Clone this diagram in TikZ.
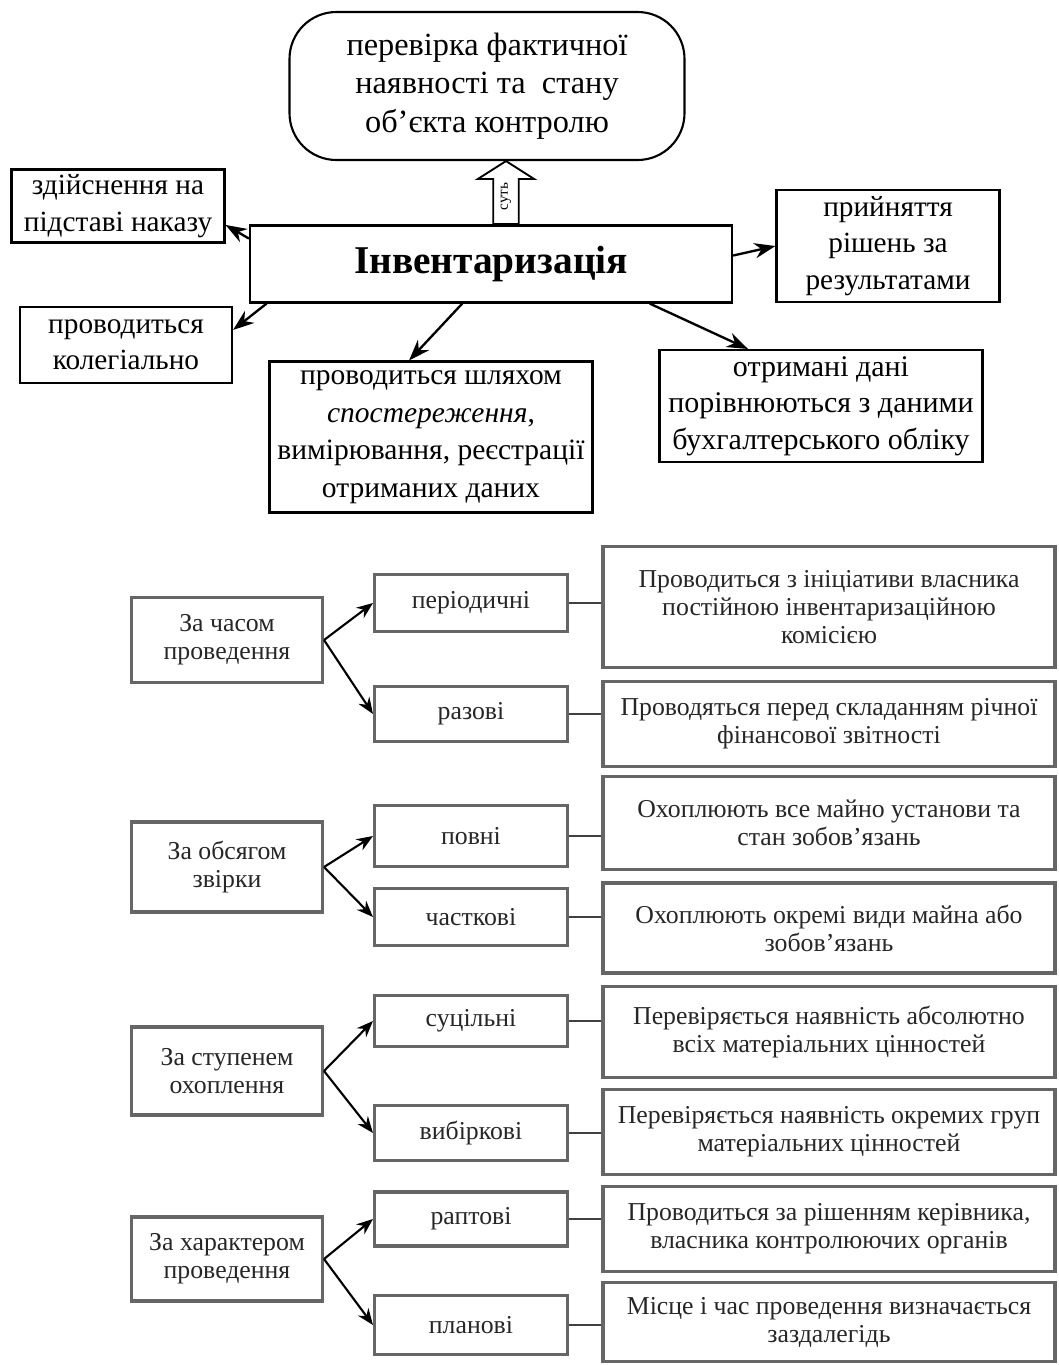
\documentclass[tikz,border=0pt]{standalone}
\usepackage{fontspec}
\setmainfont{Liberation Serif}
\usetikzlibrary{arrows.meta,shapes.arrows}

\begin{document}
\begin{tikzpicture}[x=0.015cm, y=-0.015cm,
    every node/.style={draw, inner sep=2pt, align=center},
    sz/.style 2 args={minimum width=#1*0.015cm, minimum height=#2*0.015cm},
    topbox/.style={line width=0.9pt, font=\fontsize{12.5}{15.5}\selectfont},
    lowbox/.style={line width=1.3pt, draw=black!60, text=black!85, font=\fontsize{11}{12}\selectfont},
    sutarrow/.style={single arrow, line width=0.8pt, rotate=90, inner sep=2.8pt,
        minimum height=63*0.015cm, single arrow head extend=6.6pt,
        single arrow tip angle=115, font=\fontsize{6.5}{7}\selectfont},
    arr/.style={line width=1pt, -{Stealth[length=9pt,width=6.5pt]}},
    lowarr/.style={line width=0.9pt, -{Stealth[length=7pt,width=5.5pt]}},
    link/.style={line width=1.1pt, black!75}
]
\useasboundingbox (0,0) rectangle (1058,1365);

% top
\node[topbox, sz={395}{148}, rounded corners=20pt, font=\fontsize{13.8}{16.5}\selectfont] (sut) at (487,86)
    {перевірка фактичної\\ наявності та~ стану\\ об’єкта контролю};
\node[topbox, sz={482}{77}, font=\bfseries\fontsize{16.8}{19}\selectfont] (inv) at (491,264) {Інвентаризація};
\node[sutarrow, anchor=tail] (sa) at (506,225) {суть};

\node[topbox, sz={213}{73}] (naz) at (118,206) {здійснення на\\ підставі наказу};
\node[topbox, sz={212}{76}] (kol) at (126,345) {проводиться\\ колегіально};
\node[topbox, sz={323}{151}, inner sep=1pt, font=\fontsize{12.6}{16}\selectfont] (shl) at (431,437)
    {проводиться шляхом\\ \textit{спостереження},\\ вимірювання, реєстрації\\ отриманих даних};
\node[topbox, sz={223}{112}] (prn) at (888,246) {прийняття\\ рішень за\\ результатами};
\node[topbox, sz={323}{112}, font=\fontsize{12.8}{15.5}\selectfont] (otr) at (821,406)
    {отримані дані\\ порівнюються з даними\\ бухгалтерського обліку};

\draw[arr] (inv.174) -- (naz.-10);
\draw[arr] (inv.190) -- (kol.8);
\draw[arr] (inv.234) -- (shl.106);
\draw[arr] (inv.2) -- (prn.180);
\draw[arr] (inv.-14) -- (otr.142);

% (1)
\node[lowbox, sz={191}{85}] (k1) at (227,640) {За часом\\ проведення};
\node[lowbox, sz={193}{57}] (v1) at (471,603) {періодичні};
\node[lowbox, sz={193}{55}] (v2) at (471,714) {разові};
\node[lowbox, sz={452}{121}] (o1) at (829,607)
    {Проводиться з ініціативи власника\\ постійною інвентаризаційною\\ комісією};
\node[lowbox, sz={452}{85}] (o2) at (829,724)
    {Проводяться перед складанням річної\\ фінансової звітності};
\draw[lowarr] (k1.east) -- (v1.west);
\draw[lowarr] (k1.east) -- (v2.west);
\draw[link] (v1.east) -- (v1.east -| o1.west);
\draw[link] (v2.east) -- (v2.east -| o2.west);

% (2)
\node[lowbox, sz={191}{90}] (k2) at (227,867) {За обсягом\\ звірки};
\node[lowbox, sz={193}{61}] (v3) at (471,836) {повні};
\node[lowbox, sz={193}{57}] (v4) at (471,917) {часткові};
\node[lowbox, sz={452}{93}] (o3) at (829,823)
    {Охоплюють все майно установи та\\ стан зобов’язань};
\node[lowbox, sz={452}{90}] (o4) at (829,928)
    {Охоплюють окремі види майна або\\ зобов’язань};
\draw[lowarr] (k2.east) -- (v3.west);
\draw[lowarr] (k2.east) -- (v4.west);
\draw[link] (v3.east) -- (v3.east -| o3.west);
\draw[link] (v4.east) -- (v4.east -| o4.west);

% (3)
\node[lowbox, sz={191}{88}] (k3) at (227,1071) {За ступенем\\ охоплення};
\node[lowbox, sz={193}{51}] (v5) at (471,1021) {суцільні};
\node[lowbox, sz={193}{55}] (v6) at (471,1133) {вибіркові};
\node[lowbox, sz={452}{91}] (o5) at (829,1032)
    {Перевіряється наявність абсолютно\\ всіх матеріальних цінностей};
\node[lowbox, sz={452}{85}] (o6) at (829,1132)
    {Перевіряється наявність окремих груп\\ матеріальних цінностей};
\draw[lowarr] (k3.east) -- (v5.west);
\draw[lowarr] (k3.east) -- (v6.west);
\draw[link] (v5.east) -- (v5.east -| o5.west);
\draw[link] (v6.east) -- (v6.east -| o6.west);

% (4)
\node[lowbox, sz={191}{84}] (k4) at (227,1259) {За характером\\ проведення};
\node[lowbox, sz={193}{54}] (v7) at (471,1219) {раптові};
\node[lowbox, sz={193}{59}] (v8) at (471,1325) {планові};
\node[lowbox, sz={452}{85}] (o7) at (829,1229)
    {Проводиться за рішенням керівника,\\ власника контролюючих органів};
\node[lowbox, sz={452}{79}] (o8) at (829,1322)
    {Місце і час проведення визначається\\ заздалегідь};
\draw[lowarr] (k4.east) -- (v7.west);
\draw[lowarr] (k4.east) -- (v8.west);
\draw[link] (v7.east) -- (v7.east -| o7.west);
\draw[link] (v8.east) -- (v8.east -| o8.west);

\end{tikzpicture}
\end{document}
